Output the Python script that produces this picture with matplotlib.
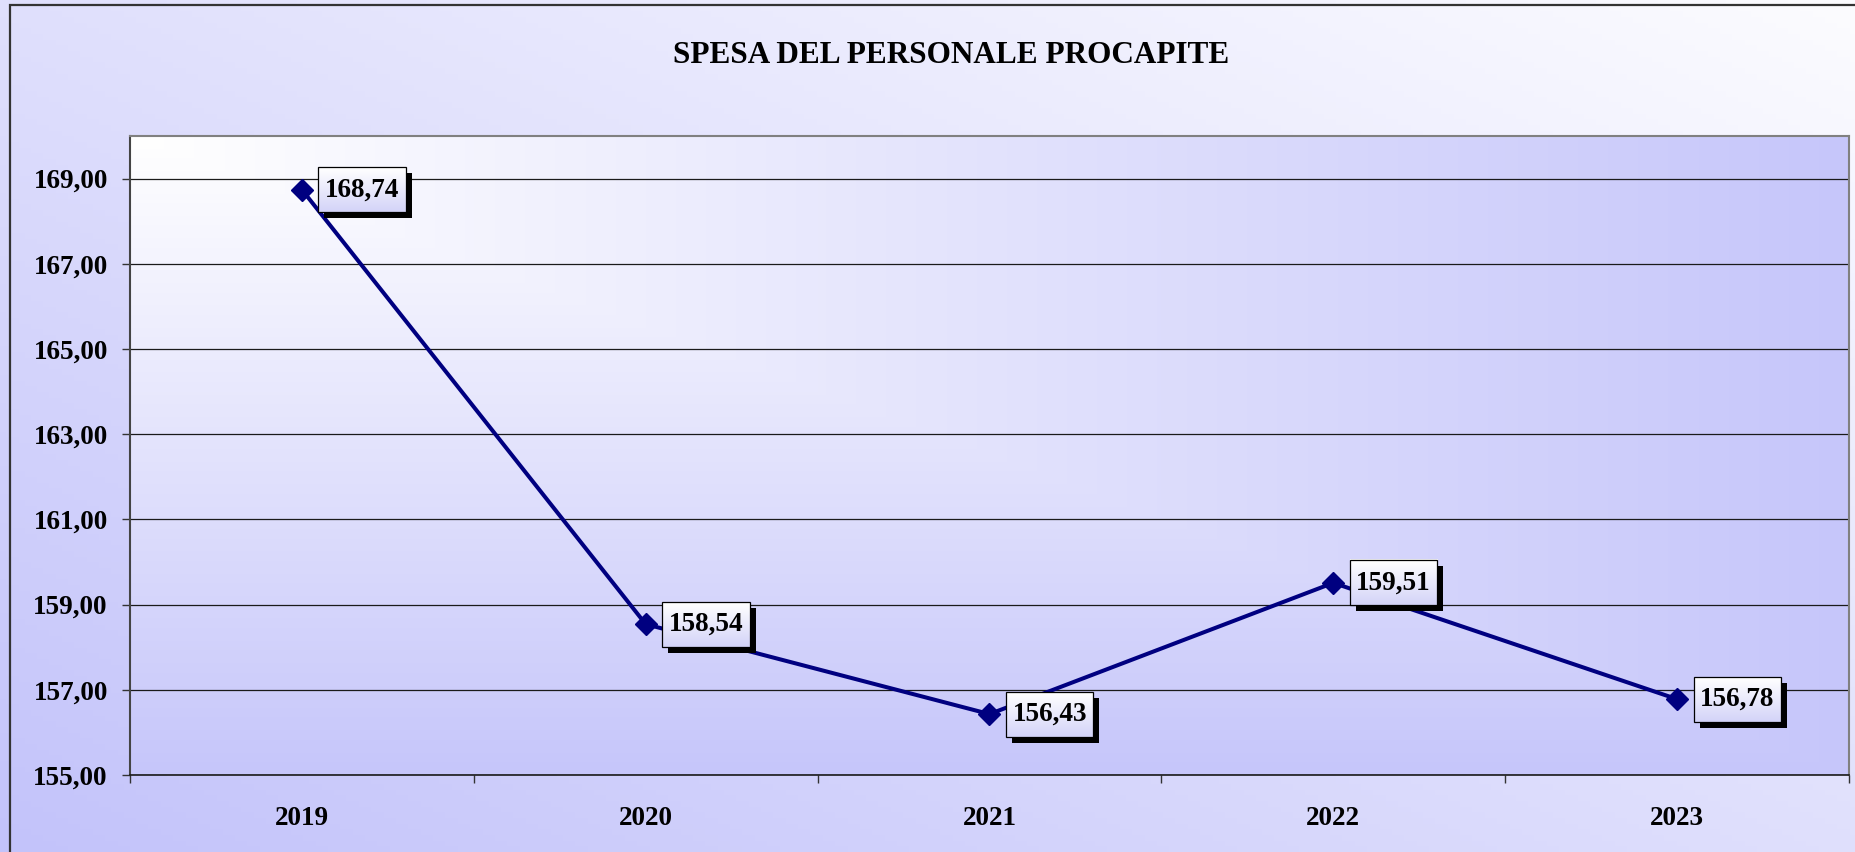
import numpy as np
import matplotlib
matplotlib.use("Agg")
import matplotlib.pyplot as plt
from matplotlib.patches import Rectangle

# data
years = ["2019", "2020", "2021", "2022", "2023"]
spesa = [168.74, 158.54, 156.43, 159.51, 156.78]
yticks = [155, 157, 159, 161, 163, 165, 167, 169]
title = "SPESA DEL PERSONALE PROCAPITE"

plt.rcParams["font.family"] = ["Liberation Serif", "DejaVu Serif"]
plt.rcParams["font.weight"] = "bold"
FS = 19.5

def virgola(v):
    return f"{v:.2f}".replace(".", ",")

W, H = 1856, 852
fig = plt.figure(figsize=(W / 100, H / 100), dpi=100)

# figure background: diagonal gradient, white at top right
bg = fig.add_axes([0, 0, 1, 1], zorder=-2)
gx, gy = np.meshgrid(np.linspace(0, 1, 300), np.linspace(0, 1, 150))
t = ((1 - gx) + gy) / 2
c0 = np.array([252, 252, 255]) / 255
c1 = np.array([195, 195, 250]) / 255
bg.imshow(c0 + t[..., None] * (c1 - c0), aspect="auto", extent=(0, 1, 0, 1))
bg.set_xlim(0, 1)
bg.set_ylim(0, 1)
bg.axis("off")
# outer frame
fig.patches.append(Rectangle((10 / W, -0.1), 1.2, 1 - 5 / H + 0.1, transform=fig.transFigure,
                             fill=False, ec="#333333", lw=1.6, zorder=-1))

ax = fig.add_axes([130 / W, 1 - 775 / H, (1849 - 130) / W, (775 - 136) / H])
ax.patch.set_visible(False)

# plot area gradient: white top-left corner to lilac
px, py = np.meshgrid(np.linspace(0, 1, 400), np.linspace(0, 1, 200))
tp = np.maximum(px, py)
p0 = np.array([255, 255, 255]) / 255
p1 = np.array([198, 198, 250]) / 255
ax.imshow(p0 + tp[..., None] * (p1 - p0), aspect="auto", extent=(0, 1, 0, 1),
          transform=ax.transAxes, zorder=0)

x = np.arange(len(years))
ax.set_xlim(-0.5, len(years) - 0.5)
ax.set_ylim(155, 170)

ax.plot(x, spesa, color="#000080", lw=2.9, marker="D", ms=11, zorder=4)

ax.set_yticks(yticks)
ax.set_yticklabels([virgola(v) for v in yticks], fontsize=FS, fontweight="bold")
ax.yaxis.grid(True, color="#1a1a1a", lw=0.9, zorder=1)
ax.tick_params(axis="y", length=6, width=1, color="#333333", pad=10)

ax.set_xticks(np.arange(len(years) + 1) - 0.5)
ax.set_xticklabels([])
ax.set_xticks(x, minor=True)
ax.set_xticklabels(years, minor=True, fontsize=FS, fontweight="bold")
ax.tick_params(axis="x", which="major", length=6, width=1, color="#333333")
ax.tick_params(axis="x", which="minor", length=0, pad=22)

for s in ["left", "top", "right"]:
    ax.spines[s].set_color("#808080")
    ax.spines[s].set_linewidth(1.5)
ax.spines["left"].set_color("#444444")
ax.spines["bottom"].set_color("#1a1a1a")
ax.spines["bottom"].set_linewidth(1.2)

fig.text(951 / W, 1 - 63 / H, title, ha="center", va="baseline", fontsize=22.5,
         fontweight="bold")

# data labels; boxes, shadows and gradient fill are built from the text extents
labels = []
for xi, v in zip(x, spesa):
    lab = ax.annotate(virgola(v), (xi, v), xytext=(16.5, 0), textcoords="offset points",
                      ha="left", va="center", fontsize=FS, fontweight="bold",
                      color="black", zorder=9)
    labels.append(lab)

fig.canvas.draw()
rend = fig.canvas.get_renderer()
inv = ax.transData.inverted()
grad = np.linspace(0, 1, 50)[:, None, None]
b0 = np.array([255, 255, 255]) / 255
b1 = np.array([212, 212, 248]) / 255
box_img = np.repeat(b0 + grad * (b1 - b0), 2, axis=1)
padx, pady, sh = 6.5, 10, 6
for lab in labels:
    e = lab.get_window_extent(rend)
    (x0, y0), (x1, y1) = inv.transform([[e.x0 - padx, e.y0 - pady], [e.x1 + padx, e.y1 + pady]])
    (sx0, sy0), (sx1, sy1) = inv.transform([[e.x0 - padx + sh, e.y0 - pady - sh],
                                            [e.x1 + padx + sh, e.y1 + pady - sh]])
    ax.add_patch(Rectangle((sx0, sy0), sx1 - sx0, sy1 - sy0, fc="black", ec="none", zorder=5))
    ax.imshow(box_img, aspect="auto", extent=(x0, x1, y0, y1), zorder=6)
    ax.add_patch(Rectangle((x0, y0), x1 - x0, y1 - y0, fill=False, ec="black", lw=0.9, zorder=7))
ax.set_xlim(-0.5, len(years) - 0.5)
ax.set_ylim(155, 170)

fig.savefig("out.png", dpi=100)
